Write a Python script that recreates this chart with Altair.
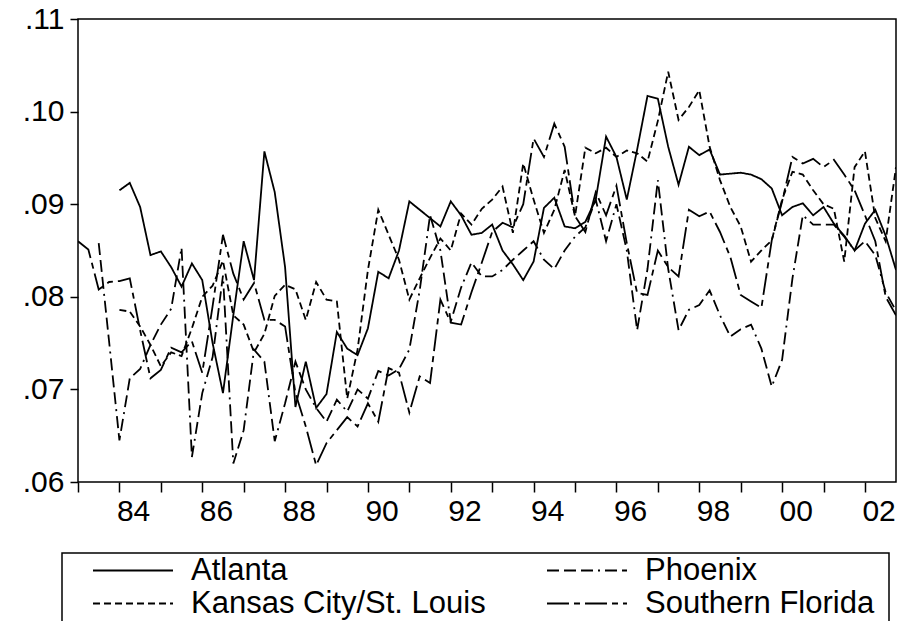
import altair as alt
import pandas as pd

# Quarterly observations, 1983Q1 .. 2002Q4
quarters = [f"{1983 + k // 4}Q{k % 4 + 1}" for k in range(80)]

atlanta = [
    None, None, None, None,
    .0915, .0923, .0897, .0845, .0849, .0832, .0811, .0836,
    .0818, .0750, .0696, .0780, .0860, .0818, .0957, .0913,
    .0832, .0681, .0730, .0680, .0695, .0762, .0744, .0737,
    .0766, .0827, .0820, .0850, .0903, .0894, .0885, .0876,
    .0903, .0888, .0867, .0869, .0878, .0850, .0835, .0818,
    .0838, .0896, .0907, .0876, .0874, .0881, .0905, .0973,
    .0951, .0905, .0959, .1017, .1014, .0962, .0921, .0962,
    .0953, .0959, .0932, .0933, .0934, .0932, .0927, .0917,
    .0888, .0897, .0901, .0888, .0897, .0879, .0866, .0850,
    .0879, .0894, .0866, .0829,
]

phoenix = [
    None, None, .0858, .0752,
    .0645, .0712, .0722, .0748, .0770, .0787, .0853, .0627,
    .0696, .0735, .0823, .0620, .0656, .0743, .0730, .0644,
    .0685, .0730, .0700, .0680, .0665, .0689, .0676, .0700,
    .0690, .0720, .0715, .0722, .0743, .0807, .0888, .0850,
    .0773, .0810, .0837, .0822, .0822, .0829, .0840, .0850,
    .0860, .0840, .0830, .0850, .0865, .0875, .0905, .0860,
    .0900, .0850, .0764, .0830, .0926, .0830, .0764, .0786,
    .0791, .0807, .0780, .0757, .0765, .0770, .0744, .0703,
    .0732, .0820, .0888, .0878, .0878, .0878, .0865, .0850,
    .0860, .0845, .0805, .0785,
]

kansas_city = [
    None, None, None, None,
    .0786, .0784, .0768, .0748, .0725, .0740, .0736, .0766,
    .0800, .0812, .0839, .0780, .0770, .0740, .0760, .0801,
    .0813, .0808, .0775, .0816, .0797, .0795, .0690, .0743,
    .0829, .0894, .0867, .0840, .0797, .0820, .0842, .0863,
    .0850, .0890, .0878, .0895, .0905, .0919, .0869, .0944,
    .0905, .0869, .0894, .0937, .0887, .0961, .0955, .0961,
    .0951, .0958, .0955, .0946, .0990, .1043, .0991, .1005,
    .1023, .0962, .0926, .0897, .0876, .0838, .0850, .0861,
    .0905, .0935, .0932, .0915, .0900, .0895, .0838, .0940,
    .0957, .0885, .0860, .0940,
]

southern_florida = [
    .0860, .0851, .0808, .0816,
    .0817, .0820, .0764, .0712, .0721, .0745, .0740, .0752,
    .0718, .0790, .0867, .0825, .0797, .0815, .0775, .0775,
    .0768, .0696, .0660, .0618, .0642, .0656, .0670, .0660,
    .0685, .0665, .0723, .0718, .0675, .0714, .0707, .0797,
    .0772, .0770, .0805, .0837, .0870, .0880, .0875, .0900,
    .0971, .0951, .0987, .0962, .0887, .0870, .0913, .0888,
    .0920, .0858, .0804, .0802, .0850, .0832, .0822, .0894,
    .0887, .0892, .0870, .0843, .0802, .0795, .0788, .0861,
    .0903, .0951, .0944, .0949, .0940, .0948, .0932, .0915,
    .0888, .0860, .0800, .0780,
]

# legend fills column by column: Atlanta / Kansas City on the left, Phoenix / Southern Florida on the right
series_names = ["Atlanta", "Kansas City/St. Louis", "Phoenix", "Southern Florida"]
series_values = [atlanta, kansas_city, phoenix, southern_florida]
line_dashes = [[1, 0], [7, 4], [12, 5, 12, 5, 12, 5, 2, 5], [22, 5, 6, 5]]

year_ticks = list(range(1983, 2003))
rate_ticks = [0.06, 0.07, 0.08, 0.09, 0.10, 0.11]

rows = []
for name, vals in zip(series_names, series_values):
    for q, v in zip(quarters, vals):
        if v is None:
            continue
        year, qn = int(q[:4]), int(q[-1])
        rows.append({"series": name, "t": year + (qn - 1) / 4, "rate": v})
df = pd.DataFrame(rows)

FONT = "Liberation Sans"

lines = alt.Chart(df).mark_line(color="black", strokeWidth=1.8, clip=True).encode(
    x=alt.X(
        "t:Q",
        scale=alt.Scale(domain=[1983, 2002.75], nice=False, zero=False),
        axis=alt.Axis(
            values=year_ticks,
            labelExpr="datum.value % 2 == 0 ? substring(toString(datum.value), 2, 4) : ''",
            labelAlign="left",
            labelOffset=-3,
            labelPadding=4,
            tickSize=10,
            labelOverlap=False,
            title=None,
        ),
    ),
    y=alt.Y(
        "rate:Q",
        scale=alt.Scale(domain=[0.06, 0.11], nice=False, zero=False),
        axis=alt.Axis(
            values=rate_ticks,
            labelExpr="replace(format(datum.value, '.2f'), '0.', '.')",
            tickSize=8,
            labelPadding=6,
            title=None,
        ),
    ),
    strokeDash=alt.StrokeDash(
        "series:N",
        scale=alt.Scale(domain=series_names, range=line_dashes),
        legend=alt.Legend(
            title=None,
            orient="none",
            legendX=-10,
            legendY=536,
            columns=2,
            symbolType="stroke",
            symbolSize=6400,
            symbolStrokeWidth=1.8,
            symbolStrokeColor="black",
            symbolOffset=24,
            labelOffset=17,
            clipHeight=31,
            rowPadding=1,
            columnPadding=36,
            padding=0,
            labelFont=FONT,
            labelFontSize=31,
            labelColor="black",
            labelLimit=0,
        ),
    ),
    order=alt.Order("t:Q"),
)

# frame around the legend
legend_box = alt.Chart(pd.DataFrame({"box": [0]})).mark_rect(
    fill=None, stroke="black", strokeWidth=1.5
).encode(
    x=alt.value(-16), x2=alt.value(811), y=alt.value(534), y2=alt.value(650)
)

chart = alt.layer(lines, legend_box).properties(
    width=818,
    height=463,
    padding={"left": 78, "top": 19, "right": 5, "bottom": 139},
    autosize="none",
    background="white",
).configure_view(
    stroke="black", strokeWidth=1.5
).configure_axis(
    domain=False,
    grid=False,
    tickColor="black",
    tickWidth=1.5,
    labelFont=FONT,
    labelFontSize=30,
    labelColor="black",
)

chart.save("out.html", embed_options={"renderer": "svg", "actions": False})
